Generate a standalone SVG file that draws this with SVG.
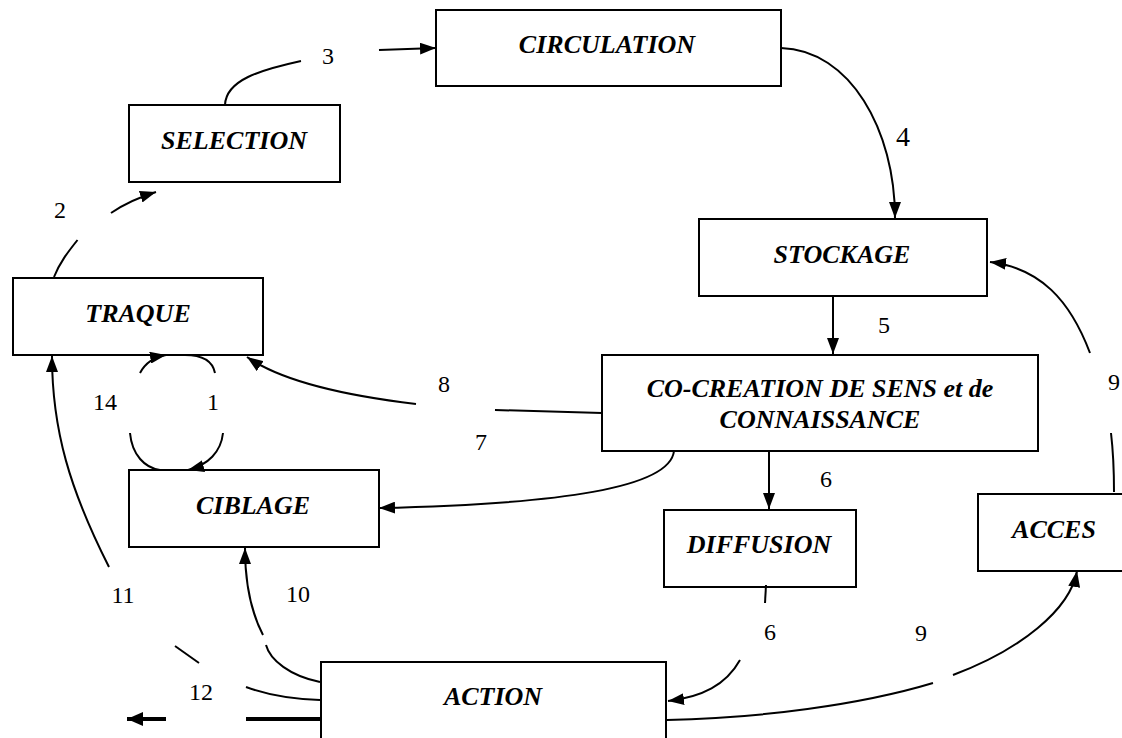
<svg xmlns="http://www.w3.org/2000/svg" width="1122" height="738" viewBox="0 0 1122 738" font-family="Liberation Serif, Times New Roman, DejaVu Serif, serif">
<style>
.box{fill:#fff;stroke:#000;stroke-width:2}
.nt{font-family:'Liberation Serif','Times New Roman',serif;font-weight:bold;font-style:italic;font-size:26px;text-anchor:middle;fill:#000}
.lb{font-family:'Liberation Serif','Times New Roman',serif;font-size:24px;text-anchor:middle;fill:#000}
.big{font-size:28px}
.c{fill:none;stroke:#000;stroke-width:2}
.a{marker-end:url(#ah)}
.bold{fill:none;stroke:#000;stroke-width:4}
</style>
<defs>
<marker id="ah" markerUnits="userSpaceOnUse" markerWidth="16" markerHeight="12" refX="16" refY="6" orient="auto">
<path d="M0,0 L16,6 L0,12 z" fill="#000"/>
</marker>
<marker id="ahb" markerUnits="userSpaceOnUse" markerWidth="16" markerHeight="14" refX="16" refY="7" orient="auto">
<path d="M0,0 L16,7 L0,14 z" fill="#000"/>
</marker>
</defs>
<rect width="1122" height="738" fill="#fff"/>
<g id="circulation"><rect class="box" x="436" y="10" width="345" height="76"/><text class="nt" x="607" y="53">CIRCULATION</text></g>
<g id="selection"><rect class="box" x="129" y="105" width="211" height="77"/><text class="nt" x="234" y="149">SELECTION</text></g>
<g id="traque"><rect class="box" x="13" y="278" width="250" height="77"/><text class="nt" x="138" y="322">TRAQUE</text></g>
<g id="stockage"><rect class="box" x="699" y="219" width="288" height="77"/><text class="nt" x="842" y="263">STOCKAGE</text></g>
<g id="cocreation"><rect class="box" x="602" y="355" width="436" height="96"/><text class="nt" x="820" y="397">CO-CREATION DE SENS et de</text><text class="nt" x="820" y="428">CONNAISSANCE</text></g>
<g id="ciblage"><rect class="box" x="129" y="470" width="250" height="77"/><text class="nt" x="253" y="514">CIBLAGE</text></g>
<g id="diffusion"><rect class="box" x="664" y="510" width="192" height="77"/><text class="nt" x="759" y="553">DIFFUSION</text></g>
<g id="acces"><rect class="box" x="978" y="494" width="160" height="77"/><text class="nt" x="1054" y="538">ACCES</text></g>
<g id="action"><rect class="box" x="321" y="662" width="345" height="90"/><text class="nt" x="493" y="705">ACTION</text></g>
<g id="connectors">
<path class="c" d="M54,277 C60,262 68,252 77.5,240"/>
<path class="c a" d="M111,213 Q130,200 156,192"/>
<path class="c" d="M225,105 C226,80 260,70 301,61"/>
<path class="c a" d="M379,50 L436,48"/>
<path class="c a" d="M781,48 C850,50 895,130 895,218"/>
<path class="c a" d="M833,296 L833,354"/>
<path class="c a" d="M769,451 L769,509"/>
<path class="c" d="M766,585 L765,603"/>
<path class="c a" d="M740,660 C726,685 702,697 668,701"/>
<path class="c" d="M602,413 L495,410"/>
<path class="c a" d="M416,404 C340,395 280,380 247,357"/>
<path class="c a" d="M674,451 C670,488 560,504 379,508"/>
<path class="c" d="M1114,492 C1114,470 1113,450 1111,433"/>
<path class="c a" d="M1090,353 C1070,300 1040,268 990,262"/>
<path class="c" d="M667,720 C760,718 860,705 933,683"/>
<path class="c a" d="M953,675 C1020,650 1070,610 1077,571"/>
<path class="c" d="M320,682 C290,676 270,660 266,645"/>
<path class="c a" d="M263,635 C250,610 245,580 245,548"/>
<path class="c" d="M320,700 C290,699 265,694 246,687"/>
<path class="c" d="M199,663 L175,646"/>
<path class="c a" d="M109,567 C70,490 52,430 52,356"/>
<path class="bold" d="M320,719 L246,719"/>
<path class="bold" d="M166,719 L127,719" marker-end="url(#ahb)"/>
<path class="c a" d="M140,373 Q148,358 166,355"/>
<path class="c" d="M185,355 C205,355 213,363 215,373"/>
<path class="c" d="M130,433 C132,455 145,468 160,470"/>
<path class="c a" d="M223,433 C221,452 208,465 188,470"/>
</g>
<g id="labels">
<text class="lb" x="60" y="218">2</text>
<text class="lb" x="328" y="64">3</text>
<text class="lb big" x="903" y="146">4</text>
<text class="lb" x="884" y="333">5</text>
<text class="lb" x="826" y="487">6</text>
<text class="lb" x="770" y="640">6</text>
<text class="lb" x="481" y="450">7</text>
<text class="lb" x="444" y="392">8</text>
<text class="lb" x="1114" y="390">9</text>
<text class="lb" x="921" y="641">9</text>
<text class="lb" x="298" y="602">10</text>
<text class="lb" x="123" y="603">11</text>
<text class="lb" x="201" y="700">12</text>
<text class="lb" x="105" y="410">14</text>
<text class="lb" x="213" y="410">1</text>
</g>
</svg>
